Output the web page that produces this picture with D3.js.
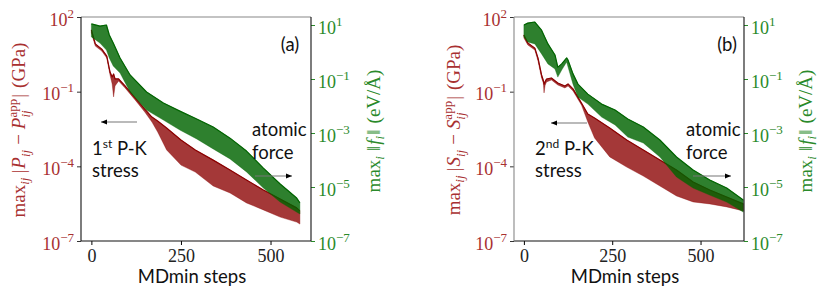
<!DOCTYPE html>
<html>
<head>
<meta charset="utf-8">
<script src="https://cdn.jsdelivr.net/npm/d3@7"></script>
<style>
  body { margin: 0; background: #fff; }
  svg { display: block; }
  text { white-space: pre; }
</style>
</head>
<body>
<script>
// values, as log10 of the quantity
// each noisy trace is kept as an upper / lower envelope per MDmin step

// panel (a) : 1st P-K stress residual (left axis, GPa)
const stressStepsA = [0, 11, 29, 43, 52, 58, 62, 66, 76, 94, 122, 149, 169, 185, 210, 250, 290, 340, 387, 433, 480, 527, 573, 582];
const stressHiA = [1.48, 0.92, 0.71, 0.43, -0.21, -0.41, -0.29, -0.49, -0.49, -0.77, -1.25, -1.70, -2.02, -2.18, -2.46, -2.94, -3.34, -3.75, -4.15, -4.55, -4.95, -5.31, -5.67, -5.79];
const stressLoA = [1.36, 0.83, 0.63, 0.35, -0.33, -0.69, -1.21, -0.77, -0.57, -0.85, -1.33, -1.82, -2.22, -2.62, -3.34, -3.95, -4.23, -4.79, -5.07, -5.47, -5.75, -6.04, -6.24, -6.32];

// panel (a) : atomic force (right axis, eV/A)
const forceStepsA = [0, 24, 42, 50, 61, 80, 108, 154, 201, 247, 294, 340, 387, 433, 480, 527, 573, 582];
const forceHiA = [1.04, 0.96, 1.00, 0.63, 0.33, -0.22, -0.85, -1.48, -1.89, -2.19, -2.48, -2.78, -3.19, -3.67, -4.30, -4.89, -5.41, -5.59];
const forceLoA = [0.56, 0.33, 0.07, -0.22, -0.52, -0.78, -1.48, -2.15, -2.52, -2.89, -3.22, -3.59, -3.96, -4.44, -5.04, -5.56, -5.93, -6.00];

// panel (b) : 2nd P-K stress residual
const stressStepsB = [0, 11, 31, 40, 50, 55, 57, 60, 64, 78, 96, 116, 125, 139, 163, 181, 200, 243, 291, 338, 385, 432, 479, 526, 574, 621];
const stressHiB = [1.28, 0.96, 0.75, 0.35, -0.33, -0.55, -0.70, -0.60, -0.49, -0.45, -0.65, -0.77, -0.69, -0.89, -1.46, -1.90, -2.06, -2.46, -2.94, -3.34, -3.75, -4.15, -4.63, -4.95, -5.23, -5.51];
const stressLoB = [1.16, 0.88, 0.67, 0.23, -0.45, -0.65, -1.05, -0.75, -0.61, -0.53, -0.73, -0.85, -0.77, -0.97, -1.54, -2.22, -2.86, -3.62, -4.03, -4.39, -4.79, -5.19, -5.43, -5.51, -5.63, -5.79];

// panel (b) : atomic force
const forceStepsB = [0, 11, 31, 50, 68, 88, 96, 107, 121, 125, 139, 153, 181, 220, 258, 294, 338, 385, 432, 479, 526, 574, 621];
const forceHiB = [1.00, 1.07, 1.11, 0.81, 0.30, -0.11, -0.56, -0.44, -0.22, -0.30, -0.81, -1.19, -1.56, -1.93, -2.15, -2.48, -2.78, -3.26, -3.89, -4.37, -4.74, -5.04, -5.48];
const forceLoB = [0.56, 0.37, 0.30, -0.07, -0.44, -0.63, -0.93, -0.67, -0.37, -0.56, -1.19, -1.67, -1.93, -2.41, -2.70, -3.15, -3.37, -3.89, -4.63, -5.04, -5.30, -5.56, -5.93];

// tick values
const leftTickExp = [2, -1, -4, -7];
const rightTickExp = [1, -1, -3, -5, -7];
const xTickValues = [0, 250, 500];

const W = 830, H = 297;
const TOP = 17, BOTTOM = 241;
const RED = "#8b0000", GREEN = "#006400";
const RED_TXT = "#a83030", GREEN_TXT = "#2a8a2a";
const SERIF = "'Liberation Serif', 'DejaVu Serif', serif";
const SANS = "Lato, 'Open Sans', sans-serif";

const svg = d3.select("body").append("svg")
  .attr("width", W)
  .attr("height", H);

const defs = svg.append("defs");
defs.append("marker")
  .attr("id", "head")
  .attr("viewBox", "0 0 6 6")
  .attr("refX", 6).attr("refY", 3)
  .attr("markerWidth", 6).attr("markerHeight", 6)
  .attr("markerUnits", "userSpaceOnUse")
  .attr("orient", "auto")
  .append("path")
  .attr("d", "M0,0.6 L6,3 L0,5.4 Z")
  .attr("fill", "#000");

const sup = e => (e < 0 ? "\u2212" + (-e) : "" + e);

// lays out a list of text pieces along a baseline, with sub/superscript stacking
function richText(parent, pieces, base, family, color) {
  let x = 0, stackX = 0, stackW = 0;
  pieces.forEach(p => {
    const t = parent.append("text")
      .attr("y", p.dy || 0)
      .attr("font-family", family)
      .attr("font-size", p.s || base)
      .attr("font-style", p.i ? "italic" : "normal")
      .attr("fill", color)
      .text(p.t);
    if (p.stack) {
      t.attr("x", stackX);
      const w = t.node().getComputedTextLength();
      x = stackX + Math.max(stackW, w) + (p.gap || 0);
    } else {
      t.attr("x", x);
      const w = t.node().getComputedTextLength();
      stackX = x; stackW = w;
      x += w + (p.gap || 0);
    }
  });
  return x;
}

function rotatedLabel(cx, cy, pieces, base, color) {
  const g = svg.append("g").attr("transform", `translate(${cx},${cy}) rotate(-90)`);
  const inner = g.append("g");
  const w = richText(inner, pieces, base, SERIF, color);
  inner.attr("transform", `translate(${-w / 2},0)`);
}

function drawPanel(p) {
  const x = d3.scaleLinear().domain(p.xDomain).range([p.left, p.right]);
  const yL = d3.scaleLog().domain([1e-7, 1e2]).range([BOTTOM, TOP]);
  const yR = d3.scaleLog().domain([1e-7, Math.pow(10, 1 + 8 / 27)]).range([BOTTOM, TOP]);

  const rows = (steps, hi, lo) => steps.map((s, i) => ({ s, hi: Math.pow(10, hi[i]), lo: Math.pow(10, lo[i]) }));
  const band = ys => d3.area().x(d => x(d.s)).y0(d => ys(d.lo)).y1(d => ys(d.hi));
  const upper = ys => d3.line().x(d => x(d.s)).y(d => ys(d.hi));

  const plot = svg.append("g");
  function trace(data, ys, color, tint) {
    plot.append("path").datum(data).attr("d", band(ys))
      .attr("fill", color).attr("fill-opacity", tint)
      .attr("stroke", color).attr("stroke-width", 0.6).attr("stroke-opacity", 0.6);
    plot.append("path").datum(data).attr("d", upper(ys))
      .attr("fill", "none").attr("stroke", color).attr("stroke-width", 1.2).attr("stroke-linejoin", "round");
  }
  trace(rows(p.stressSteps, p.stressHi, p.stressLo), yL, RED, 0.78);
  trace(rows(p.forceSteps, p.forceHi, p.forceLo), yR, GREEN, 0.82);

  // axes
  const ax = svg.append("g").attr("transform", `translate(0,${BOTTOM})`)
    .call(d3.axisBottom(x).tickValues(xTickValues).tickSize(4).tickPadding(4).tickFormat(d3.format("d")));
  ax.select(".domain").remove();
  ax.selectAll("text").attr("font-family", SERIF).attr("font-size", 18).attr("fill", "#222");

  const al = svg.append("g").attr("transform", `translate(${p.left},0)`)
    .call(d3.axisLeft(yL).tickValues(leftTickExp.map(e => Math.pow(10, e))).tickSize(4).tickPadding(3).tickFormat(() => ""));
  al.select(".domain").remove();
  al.selectAll(".tick line").attr("stroke", "#333");
  al.selectAll(".tick text").each(function (d, i) {
    const t = d3.select(this).attr("font-family", SERIF).attr("font-size", 18).attr("fill", RED_TXT).attr("dy", "0.45em");
    t.append("tspan").text("10");
    t.append("tspan").attr("dy", -8).attr("font-size", 13).text(sup(leftTickExp[i]));
  });

  const ar = svg.append("g").attr("transform", `translate(${p.right},0)`)
    .call(d3.axisRight(yR).tickValues(rightTickExp.map(e => Math.pow(10, e))).tickSize(4).tickPadding(3).tickFormat(() => ""));
  ar.select(".domain").remove();
  ar.selectAll(".tick line").attr("stroke", GREEN_TXT);
  ar.selectAll(".tick text").each(function (d, i) {
    const t = d3.select(this).attr("font-family", SERIF).attr("font-size", 18).attr("fill", GREEN_TXT).attr("dy", "0.45em");
    t.append("tspan").text("10");
    t.append("tspan").attr("dy", -8).attr("font-size", 13).text(sup(rightTickExp[i]));
  });

  // spines
  const sp = svg.append("g").attr("stroke-width", 1.1).attr("fill", "none");
  sp.append("line").attr("x1", p.left).attr("x2", p.right).attr("y1", TOP).attr("y2", TOP).attr("stroke", "#888");
  sp.append("line").attr("x1", p.left).attr("x2", p.right).attr("y1", BOTTOM).attr("y2", BOTTOM).attr("stroke", "#111");
  sp.append("line").attr("x1", p.left).attr("x2", p.left).attr("y1", TOP).attr("y2", BOTTOM).attr("stroke", p.leftSpine);
  sp.append("line").attr("x1", p.right).attr("x2", p.right).attr("y1", TOP).attr("y2", BOTTOM).attr("stroke", "#111");

  // axis titles
  svg.append("text")
    .attr("x", (p.left + p.right) / 2 - 4).attr("y", 283)
    .attr("text-anchor", "middle")
    .attr("font-family", SANS).attr("font-size", 18.5).attr("fill", "#111")
    .text("MDmin steps");

  rotatedLabel(p.leftLabelX, 130, [
    { t: "max" },
    { t: "ij", i: true, s: 13, dy: 4, gap: 4 },
    { t: "|", gap: 1 },
    { t: p.sym, i: true },
    { t: "ij", i: true, s: 13, dy: 5, gap: 5 },
    { t: "\u2212", gap: 5 },
    { t: p.sym, i: true },
    { t: "ij", i: true, s: 13, dy: 5 },
    { t: "app", s: 13, dy: -8, stack: true, gap: 1 },
    { t: "|", gap: 6 },
    { t: "(GPa)" }
  ], 19, RED_TXT);

  rotatedLabel(p.rightLabelX, 131, [
    { t: "max" },
    { t: "i", i: true, s: 13, dy: 4, gap: 5 },
    { t: "\u2016", gap: 1 },
    { t: "f", i: true },
    { t: "i", i: true, s: 13, dy: 4, gap: 1 },
    { t: "\u2016", gap: 6 },
    { t: "(eV/\u00c5)" }
  ], 19, GREEN_TXT);

  // annotations
  const note = (tx, ty) => svg.append("text")
    .attr("x", tx).attr("y", ty)
    .attr("font-family", SANS).attr("font-size", 18.5).attr("fill", "#111");

  note(p.tagX, 51).attr("text-anchor", "middle").text(p.tag);

  const pk = note(p.pkX, 155);
  pk.append("tspan").text(p.ord[0]);
  pk.append("tspan").attr("dy", -7).attr("font-size", 12).text(p.ord[1]);
  pk.append("tspan").attr("dy", 7).text(" P-K");
  note(p.pkX, 177).text("stress");

  note(p.atX, 136).text("atomic");
  note(p.atX, 159).text("force");

  const arrow = (x1, x2, yy) => svg.append("line")
    .attr("x1", x1).attr("x2", x2).attr("y1", yy).attr("y2", yy)
    .attr("stroke", "#777").attr("stroke-width", 1.1)
    .attr("marker-end", "url(#head)");
  arrow(p.stressArrow[0], p.stressArrow[1], p.stressArrow[2]);
  arrow(p.forceArrow[0], p.forceArrow[1], p.forceArrow[2]);
}

drawPanel({
  left: 81, right: 311, xDomain: [-29, 613], leftSpine: "#111",
  stressSteps: stressStepsA, stressHi: stressHiA, stressLo: stressLoA,
  forceSteps: forceStepsA, forceHi: forceHiA, forceLo: forceLoA,
  sym: "P", leftLabelX: 25, rightLabelX: 380,
  tag: "(a)", tagX: 290, ord: ["1", "st"], pkX: 92, atX: 252,
  stressArrow: [137, 101, 122], forceArrow: [255, 292, 176]
});

drawPanel({
  left: 514, right: 744, xDomain: [-28, 623], leftSpine: "#888",
  stressSteps: stressStepsB, stressHi: stressHiB, stressLo: stressLoB,
  forceSteps: forceStepsB, forceHi: forceHiB, forceLo: forceLoB,
  sym: "S", leftLabelX: 460, rightLabelX: 812,
  tag: "(b)", tagX: 727, ord: ["2", "nd"], pkX: 535, atX: 686,
  stressArrow: [587, 551, 123], forceArrow: [693, 731, 176]
});
</script>
</body>
</html>
